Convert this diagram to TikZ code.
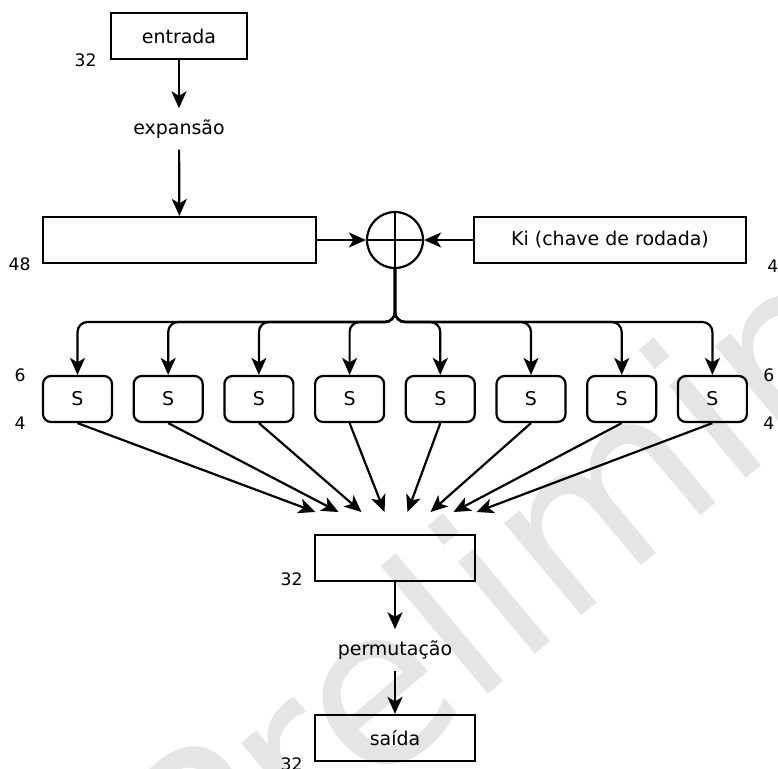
\documentclass[tikz,border=0pt]{standalone}
\usepackage{fontspec}
\setmainfont{DejaVu Sans}
\usetikzlibrary{arrows.meta,positioning}
\tikzset{
  box/.style={draw,line width=1.25pt,minimum height=0.92cm,inner sep=0pt},
  sbox/.style={box,rounded corners=0.16cm,minimum width=1.38cm},
  stage/.style={inner xsep=0pt,inner ysep=0.22cm},
  num/.style={font=\fontsize{9.8}{11}\selectfont,inner sep=0pt},
  flow/.style={line width=1.25pt,-{Stealth[length=0.34cm,width=0.3cm,inset=0.09cm]}},
}

\begin{document}
\begin{tikzpicture}[x=0.02cm,y=-0.02cm,font=\fontsize{10.8}{13}\selectfont]
  \useasboundingbox (0,0) rectangle (778,768);
  % marca d'agua
  \begin{scope}
    \clip (0,0) rectangle (778,768);
    \node[rotate=40,text=black!10,font=\fontsize{125}{125}\selectfont] (wm) at (578,512) {Preliminar};
  \end{scope}

  \node[box,minimum width=2.72cm] (entrada) at (179,36) {entrada};
  \node[stage] (expansao) at (179,129) {expansão};
  \node[box,minimum width=5.46cm] (r48) at (179.5,240) {};
  \node[draw,circle,line width=1.25pt,minimum size=1.12cm,inner sep=0pt] (xor) at (395,240) {};
  \draw[line width=1.25pt] (xor.north) -- (xor.south) (xor.west) -- (xor.east);
  \node[box,minimum width=5.44cm] (chave) at (610,240) {Ki (chave de rodada)};

  \foreach \i in {1,...,8}
    \node[sbox] (s\i) at ({77.5+90.7*(\i-1)},399) {S};

  \node[box,minimum width=3.2cm] (perm) at (395,558) {};
  \node[stage] (permutacao) at (395,650) {permutação};
  \node[box,minimum width=3.2cm] (saida) at (395,738) {saída};

  % tamanhos
  \node[num,anchor=east] (n1) at ([xshift=-0.26cm]entrada.south west) {32};
  \node[num,anchor=east] (n2) at ([xshift=-0.22cm]r48.south west) {48};
  \node[num,anchor=west] (n3) at ([xshift=0.4cm,yshift=-0.04cm]chave.south east) {48};
  \node[num,anchor=east] (n4) at ([xshift=-0.32cm]s1.north west) {6};
  \node[num,anchor=east] (n5) at ([xshift=-0.32cm]s1.south west) {4};
  \node[num,anchor=west] (n6) at ([xshift=0.3cm]s8.north east) {6};
  \node[num,anchor=west] (n7) at ([xshift=0.3cm]s8.south east) {4};
  \node[num,anchor=east] (n8) at ([xshift=-0.22cm,yshift=0.06cm]perm.south west) {32};
  \node[num,anchor=east] (n9) at ([xshift=-0.22cm,yshift=-0.04cm]saida.south west) {32};

  \draw[flow] (entrada) -- (expansao);
  \draw[flow] (expansao) -- (r48);
  \draw[flow] (r48) -- (xor);
  \draw[flow] (chave) -- (xor);

  \coordinate (bus) at (395,322);
  \foreach \i in {1,...,8} {
    \draw[flow,rounded corners=0.2cm] (xor.south) -- (bus) -| (s\i.north);
    \coordinate (t\i) at ({396+23*(\i-4.5)},512);
    \draw[flow] (s\i.south) -- (t\i);
  }

  \draw[flow] (perm) -- (permutacao);
  \draw[flow] (permutacao) -- (saida);
\end{tikzpicture}
\end{document}
